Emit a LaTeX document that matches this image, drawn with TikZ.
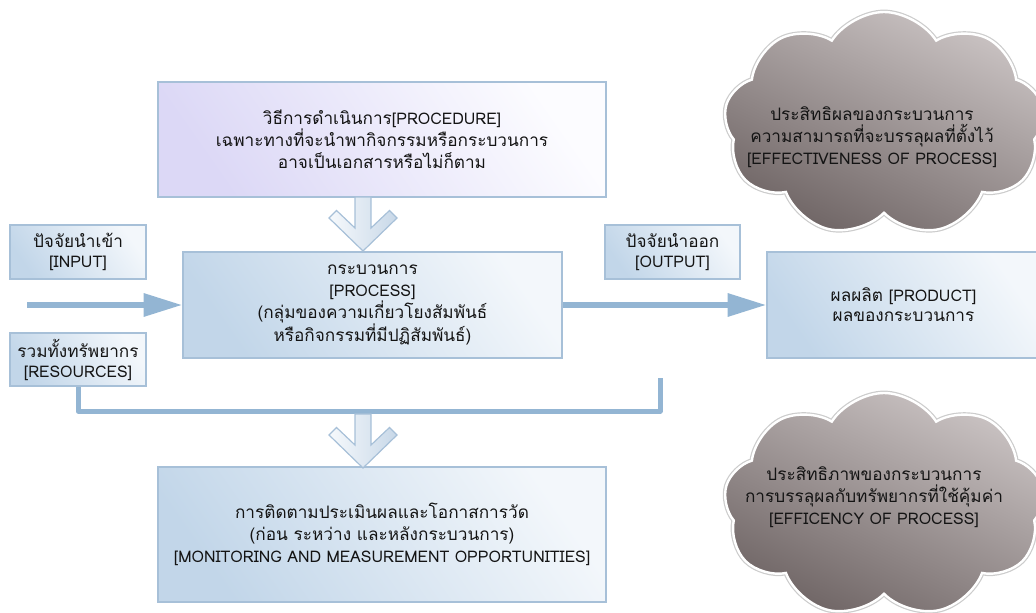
\documentclass[tikz,border=0pt]{standalone}
\usepackage{fontspec}
\setmainfont{Loma}[Script=Thai]
\usetikzlibrary{arrows.meta,shapes.symbols,calc}
\definecolor{bdr}{HTML}{A7C0D8}
\definecolor{bxdark}{HTML}{C2D6E9}
\definecolor{bxlight}{HTML}{F3F7FB}
\definecolor{prdark}{HTML}{DCD8F6}
\definecolor{prlight}{HTML}{FCFCFF}
\definecolor{arr}{HTML}{93B5D3}
\definecolor{cldark}{HTML}{6F6565}
\definecolor{cllight}{HTML}{CAC3C3}
\definecolor{txt}{HTML}{141414}
\definecolor{chl}{HTML}{F6F9FC}
\definecolor{chd}{HTML}{C8D8E8}
\newcommand\lt[1]{{\fontsize{12}{16.5}\selectfont #1}}
\begin{document}
\begin{tikzpicture}[x=0.75pt,y=-0.75pt,
  every node/.style={font=\fontsize{12.9}{16.5}\selectfont, text=txt, align=center},
  box/.style={draw=bdr, line width=0.9pt, shading=axis, top color=bxlight, bottom color=bxdark, shading angle=-55, inner sep=0pt},
  prbox/.style={box, top color=prlight, bottom color=prdark, shading angle=-55},
  flow/.style={draw=arr, line width=4.5pt, -{Triangle[length=29pt,width=16.5pt]}},
  bracketline/.style={draw=arr, line width=3.75pt, line join=round},
  chevst/.style={draw=bdr, line width=0.9pt, left color=chl, right color=chd},
  cloudst/.style={cloud, cloud puffs=9, cloud puff arc=115, cloud ignores aspect, top color=cllight, bottom color=cldark, shading angle=-25, draw=white, line width=1.8pt, preaction={draw=black!20, line width=3.6pt}, inner sep=0pt},
  chev/.pic={\shadedraw[chevst] (-8,-54) -- (-8,-23) -- (-26.5,-40.5) -- (-34,-33) -- (0,0) -- (34,-33) -- (26.5,-40.5) -- (8,-23) -- (8,-54) -- cycle;}
]
\useasboundingbox (0,0) rectangle (1036,613);

% clouds
\node[cloudst, minimum width=240pt, minimum height=168pt] (cl1) at (884,124) {};
\node (cl1t) at (872,137) {ประสิทธิผลของกระบวนการ\\ความสามารถที่จะบรรลุผลที่ตั้งไว้\\\lt{[EFFECTIVENESS OF PROCESS]}};
\node[cloudst, minimum width=240pt, minimum height=168pt] (cl2) at (884,505) {};
\node (cl2t) at (874,497) {ประสิทธิภาพของกระบวนการ\\การบรรลุผลกับทรัพยากรที่ใช้คุ้มค่า\\\lt{[EFFICENCY OF PROCESS]}};

% boxes
\node[prbox, minimum width=336pt, minimum height=86.25pt] (proc) at (382,139.5)
  {วิธีการดำเนินการ\lt{[PROCEDURE]}\\เฉพาะทางที่จะนำพากิจกรรมหรือกระบวนการ\\อาจเป็นเอกสารหรือไม่ก็ตาม};
\node[box, minimum width=284.25pt, minimum height=79.5pt] (process) at (372.5,305)
  {กระบวนการ\\\lt{[PROCESS]}\\(กลุ่มของความเกี่ยวโยงสัมพันธ์\\หรือกิจกรรมที่มีปฏิสัมพันธ์)};
\node[box, minimum width=102pt, minimum height=40.5pt, font=\fontsize{12.9}{15}\selectfont] (input) at (78,252)
  {ปัจจัยนำเข้า\\\lt{[INPUT]}};
\node[box, minimum width=102pt, minimum height=39.75pt, font=\fontsize{12.9}{15}\selectfont] (res) at (78,359.5)
  {รวมทั้งทรัพยากร\\\lt{[RESOURCES]}};
\node[box, minimum width=101.25pt, minimum height=40.5pt, font=\fontsize{12.9}{15}\selectfont] (output) at (672.5,252)
  {ปัจจัยนำออก\\\lt{[OUTPUT]}};
\node[box, minimum width=204.75pt, minimum height=79.5pt, font=\fontsize{12.9}{15}\selectfont] (prod) at (903.5,305)
  {ผลผลิต \lt{[PRODUCT]}\\ผลของกระบวนการ};
\node[box, minimum width=336pt, minimum height=101.25pt] (mon) at (382,534.5)
  {การติดตามประเมินผลและโอกาสการวัด\\(ก่อน ระหว่าง และหลังกระบวนการ)\\\lt{[MONITORING AND MEASUREMENT OPPORTUNITIES]}};

% connectors
\coordinate (inStart) at (27,305);
\draw[flow] (inStart) -- (process.west);
\draw[flow] (process.east) -- (prod.west);

\coordinate (brR) at (660,378);
\coordinate (brY) at (0,411);
\draw[bracketline] (res.south) -- (res.south |- brY) -| (brR);

% chevron arrows
\pic at (363,251) {chev};
\pic at (363,468) {chev};
\end{tikzpicture}
\end{document}
